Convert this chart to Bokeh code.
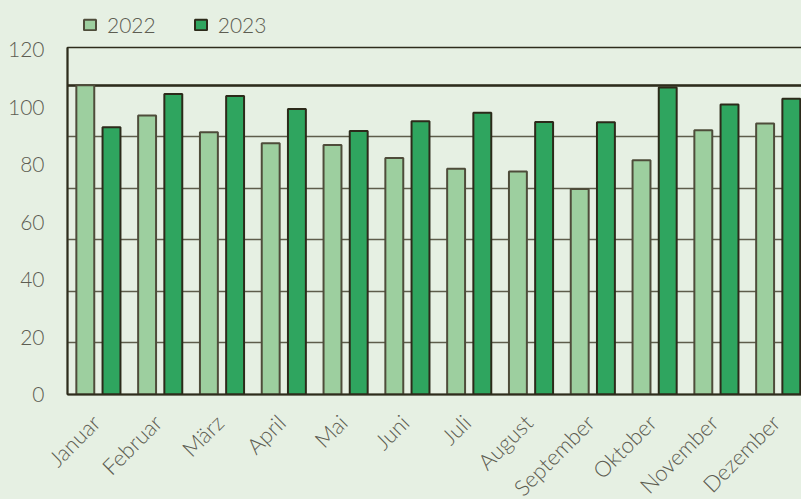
from bokeh.plotting import figure
from bokeh.layouts import column
from bokeh.models import (Range1d, LinearAxis, FixedTicker, SingleIntervalTicker,
                          Grid, Legend, LegendItem, ColumnDataSource)
from bokeh.transform import dodge
from bokeh.embed import file_html
from bokeh.resources import INLINE
from math import pi

months = ["Januar", "Februar", "März", "April", "Mai", "Juni", "Juli",
          "August", "September", "Oktober", "November", "Dezember"]
series = ["2022", "2023"]
v2022 = [107.7, 97.2, 91.3, 87.5, 86.9, 82.4, 78.6, 77.7, 71.6, 81.6, 92.0, 94.4]
v2023 = [93.1, 104.7, 104.0, 99.4, 91.8, 95.2, 98.1, 94.9, 94.8, 106.9, 101.0, 103.0]
label_ticks = [0, 20, 40, 60, 80, 100, 120]

BG = "#e6f0e3"
C22 = "#9dcf9f"
C23 = "#2fa55f"
E22 = "#4e4c3a"
E23 = "#2c2a1a"
DARK = "#2e2c1c"
TXT = "#5d5d52"
FONT = "Lato Light, Lato, sans-serif"

pos = list(range(1, len(months) + 1))
src = ColumnDataSource(dict(pos=pos, v2022=v2022, v2023=v2023))

X_END = 12.409  # the last group runs past the right edge of the window

# ---------------- main chart ----------------
p = figure(frame_width=736, frame_height=347, output_backend="svg",
           toolbar_location=None,
           x_range=Range1d(0.5, X_END), y_range=Range1d(0, 134.6),
           x_axis_location=None, y_axis_location=None,
           min_border_left=67, min_border_right=0, min_border_top=9,
           min_border_bottom=0)
p.background_fill_color = BG
p.border_fill_color = BG
p.outline_line_color = DARK
p.outline_line_width = 1.5
p.grid.visible = False  # drop the default grids
p.extra_y_ranges = {"lbl": Range1d(0, 120.86)}
p.extra_x_ranges = {"lblx": Range1d(0.5 + 0.04, X_END + 0.04)}

g = Grid(dimension=1, ticker=SingleIntervalTicker(interval=20),
         grid_line_color="#5e5d4b", grid_line_width=1.5)
p.add_layout(g)
gtop = Grid(dimension=1, ticker=FixedTicker(ticks=[120]),
            grid_line_color=DARK, grid_line_width=2.5)
p.add_layout(gtop)

p.vbar(x=dodge("pos", -0.212, range=p.x_range), top="v2022", width=0.29,
       source=src, y_range_name="lbl", fill_color=C22,
       line_color=E22, line_width=2)
p.vbar(x=dodge("pos", 0.212, range=p.x_range), top="v2023", width=0.29,
       source=src, y_range_name="lbl", fill_color=C23,
       line_color=E23, line_width=2)

yax = LinearAxis(y_range_name="lbl", ticker=FixedTicker(ticks=label_ticks))
yax.axis_line_color = DARK
yax.axis_line_width = 2
yax.major_tick_line_color = None
yax.minor_tick_line_color = None
yax.major_tick_out = 0
yax.major_label_standoff = 23
yax.major_label_text_font = FONT
yax.major_label_text_font_size = "21px"
yax.major_label_text_color = TXT
p.add_layout(yax, "left")

xax = LinearAxis(x_range_name="lblx", ticker=FixedTicker(ticks=pos))
xax.major_label_overrides = {i: m for i, m in zip(pos, months)}
xax.axis_line_color = DARK
xax.axis_line_width = 2
xax.major_tick_line_color = None
xax.minor_tick_line_color = None
xax.major_tick_out = 0
xax.major_label_standoff = 24
xax.major_label_orientation = pi / 4
xax.major_label_text_font = FONT
xax.major_label_text_font_size = "22px"
xax.major_label_text_color = TXT
p.add_layout(xax, "below")

# ---------------- legend strip ----------------
lf = figure(width=803, height=38, output_backend="svg", toolbar_location=None,
            x_range=Range1d(-2, -1), y_range=Range1d(0, 1),
            x_axis_location=None, y_axis_location=None, min_border=0)
lf.background_fill_color = BG
lf.border_fill_color = BG
lf.outline_line_color = None
lf.grid.visible = False
# series renderers kept outside the strip's visible range: only their legend shows
d22 = lf.vbar(x="pos", top="v2022", width=0.29, source=src,
              fill_color=C22, line_color=E22, line_width=2)
d23 = lf.vbar(x="pos", top="v2023", width=0.29, source=src,
              fill_color=C23, line_color=E23, line_width=2)

legend = Legend(items=[LegendItem(label=series[0], renderers=[d22]),
                       LegendItem(label=series[1], renderers=[d23])],
                orientation="horizontal", location=(15, 1))
legend.glyph_width = 15
legend.glyph_height = 13
legend.label_standoff = 10
legend.spacing = 37
legend.padding = 0
legend.margin = 0
legend.border_line_color = None
legend.background_fill_alpha = 0
legend.label_text_font = FONT
legend.label_text_font_size = "21px"
legend.label_text_color = TXT
lf.add_layout(legend, "center")

layout = column(lf, p, spacing=0)
html = file_html(layout, INLINE)
html = html.replace("</head>",
                    "<style>html, body { overflow: hidden; background: %s; }</style></head>" % BG, 1)
open("out.html", "w").write(html)
